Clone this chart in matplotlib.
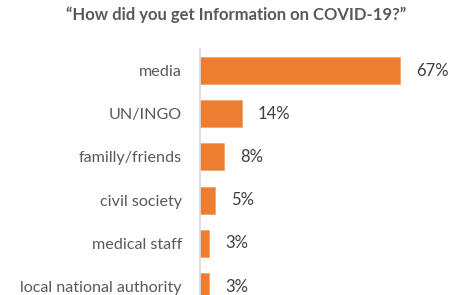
import matplotlib
matplotlib.use("Agg")
import matplotlib.pyplot as plt

categories = ["media", "UN/INGO", "familly/friends", "civil society", "medical staff", "local national authority"]
values = [67, 14, 8, 5, 3, 3]
value_labels = ["67%", "14%", "8%", "5%", "3%", "3%"]
title = "\u201cHow did you get Information on COVID-19?\u201d"

plt.rcParams['font.family'] = ['Lato', 'DejaVu Sans']

W, H = 451, 295
fig = plt.figure(figsize=(W/100, H/100), dpi=100)
ax_left = 200 / W
ax_top_px = 49
ax = fig.add_axes([ax_left, 0, 1 - ax_left, (H - ax_top_px) / H])

px_per_unit = 200 / 67.0
ax.set_xlim(0, (W - 200) / px_per_unit)
pos = list(range(len(categories)))
step = 43.2
c0 = 70.5
ax.barh(pos, values, height=0.625, color="#ED7D31", edgecolor="#F4A46E", linewidth=0.6)
ax.set_ylim((H - c0) / step, -(c0 - ax_top_px) / step)

ax.set_yticks(pos)
ax.set_yticklabels(categories, fontsize=11.6, color="#595959")
ax.tick_params(axis="y", length=0, pad=13)
ax.set_xticks([])
for s in ["top", "right", "bottom"]:
    ax.spines[s].set_visible(False)
ax.spines["left"].set_color("#D9D9D9")
ax.spines["left"].set_linewidth(1.2)

for p, v, lab in zip(pos, values, value_labels):
    ax.annotate(lab, xy=(v, p), xytext=(11.5, 0), textcoords="offset points",
                va="center", ha="left", fontsize=12, color="#404040")

fig.text(236 / W, 1 - 15 / H, title, ha="center", va="center", fontsize=12,
         fontweight="bold", color="#595959")

fig.savefig("out.png", dpi=100)
